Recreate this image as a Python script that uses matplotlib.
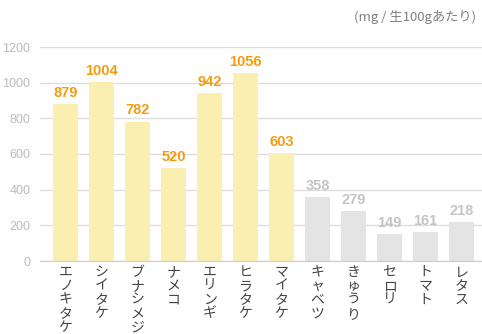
import matplotlib.pyplot as plt
import matplotlib.transforms as mtransforms

plt.rcParams['font.family'] = ['Noto Sans CJK JP', 'DejaVu Sans']

# data
foods = ["エノキタケ", "シイタケ", "ブナシメジ", "ナメコ", "エリンギ", "ヒラタケ", "マイタケ",
         "キャベツ", "きゅうり", "セロリ", "トマト", "レタス"]
values = [879, 1004, 782, 520, 942, 1056, 603, 358, 279, 149, 161, 218]
is_mushroom = [True] * 7 + [False] * 5
yticks = [0, 200, 400, 600, 800, 1000, 1200]

W, H = 482, 334
fig = plt.figure(figsize=(W / 100, H / 100), dpi=100)
ax = fig.add_axes([40 / W, (H - 261) / H, 442 / W, 214 / H])

bar_colors = ["#faeeb0" if m else "#e4e4e4" for m in is_mushroom]
text_colors = ["#f39c12" if m else "#c4c4c4" for m in is_mushroom]

x = list(range(len(foods)))
ax.bar(x, values, width=0.69, color=bar_colors, zorder=2)

for i, v in enumerate(values):
    ax.annotate(str(v), (i, v), xytext=(0, 3), textcoords="offset points",
                ha="center", va="bottom", fontsize=10.5, fontweight="bold",
                color=text_colors[i], family="Liberation Sans", zorder=3)

# vertical stacked category labels
trans = mtransforms.blended_transform_factory(ax.transData, ax.transAxes)
for i, name in enumerate(foods):
    ax.text(i, -0.02, "\n".join(name), transform=trans, ha="center", va="top",
            fontsize=10, color="#444444", linespacing=0.98)

ax.set_xlim(-0.708, 11.57)
ax.set_ylim(0, 1200)
ax.set_yticks(yticks)
ax.set_xticks([])
ax.yaxis.grid(True, color="#dddddd", linewidth=1, zorder=0)
ax.tick_params(axis="y", length=0, labelsize=9, labelcolor="#bbbbbb", pad=7)
for lbl in ax.get_yticklabels():
    lbl.set_family("Liberation Sans")
for s in ["top", "right", "left"]:
    ax.spines[s].set_visible(False)
ax.spines["bottom"].set_color("#cccccc")
ax.set_axisbelow(True)

fig.text(476 / W, 1 - 17 / H, "(mg / 生100gあたり)", ha="right", va="center",
         fontsize=9.5, color="#808080")

fig.savefig("out.png", dpi=100)
